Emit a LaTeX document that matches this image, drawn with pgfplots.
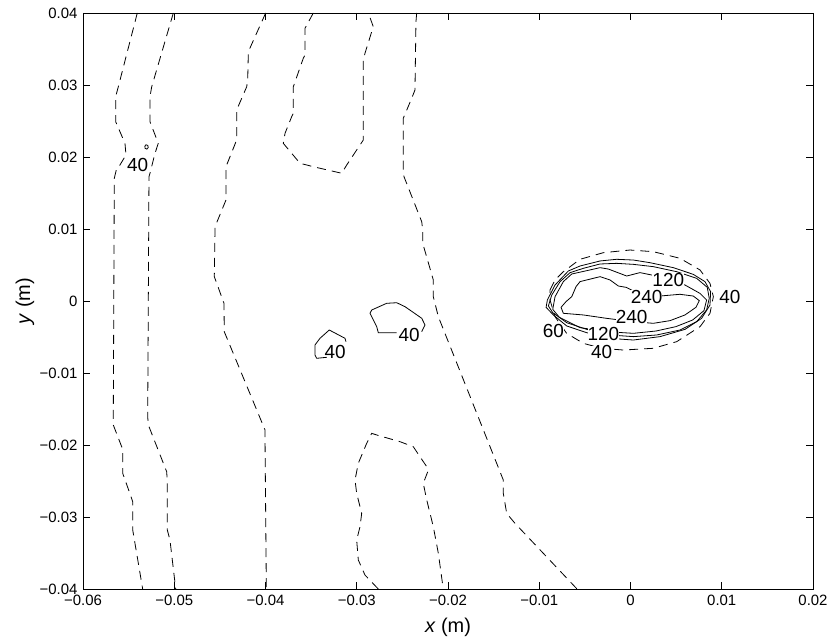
\documentclass[border=0pt]{standalone}
\usepackage{fontspec}
\setmainfont{Liberation Sans}
\usepackage{pgfplots}
\pgfplotsset{compat=1.18}
\tikzset{
  cont/.style={black, line width=0.8bp, no markers},
  dsh/.style={black, line width=0.8bp, no markers, dash pattern=on 9bp off 6bp},
  clab/.style={font=\fontsize{19}{19}\selectfont, inner sep=0.5bp},
  clabw/.style={font=\fontsize{19}{19}\selectfont, inner sep=0pt, fill=white},
}
\begin{document}
\begin{tikzpicture}
\begin{axis}[
  scale only axis, width=730bp, height=576bp,
  xmin=-0.06, xmax=0.02, ymin=-0.04, ymax=0.04,
  scaled ticks=false,
  xtick={-0.06,-0.05,-0.04,-0.03,-0.02,-0.01,0,0.01,0.02},
  xticklabels={−0.06,−0.05,−0.04,−0.03,−0.02,−0.01,0,0.01,0.02},
  ytick={-0.04,-0.03,-0.02,-0.01,0,0.01,0.02,0.03,0.04},
  yticklabels={−0.04,−0.03,−0.02,−0.01,0,0.01,0.02,0.03,0.04},
  tick align=inside, major tick length=7bp,
  axis line style={line width=0.9bp},
  every tick/.style={black, line width=0.8bp},
  ticklabel style={font=\fontsize{15}{15}\selectfont},
  xticklabel style={yshift=-3bp},
  yticklabel style={xshift=-2bp},
  xlabel={\textit{x} (m)}, ylabel={\textit{y} (m)},
  label style={font=\fontsize{20}{20}\selectfont},
  xlabel style={at={(axis description cs:0.5,-0.066)}, anchor=center},
  ylabel style={at={(axis description cs:-0.0795,0.5)}, anchor=center},
]
% --- dashed contours ---
\addplot[dsh] coordinates {(-0.05405,0.04) (-0.05613,0.02976) (-0.05642,0.02838) (-0.05642,0.02490) (-0.05540,0.02190) (-0.05529,0.02028) (-0.05595,0.01889) (-0.05631,0.01843) (-0.05657,0.01704) (-0.05668,-0.01607) (-0.05668,-0.01722) (-0.05576,-0.02024) (-0.05565,-0.02046) (-0.05565,-0.02393) (-0.05493,-0.02649) (-0.05455,-0.02788) (-0.05455,-0.03181) (-0.05346,-0.04)};
\addplot[dsh] coordinates {(-0.05010,0.04) (-0.05247,0.02976) (-0.05266,0.02838) (-0.05266,0.02490) (-0.05175,0.02190) (-0.05211,0.02051) (-0.05266,0.01774) (-0.05277,0.01726) (-0.05291,-0.01607) (-0.05284,-0.01722) (-0.05083,-0.02371) (-0.05076,-0.02510) (-0.05076,-0.03181) (-0.05047,-0.03319) (-0.04984,-0.04)};
\addplot[dsh] coordinates {(-0.03998,0.04) (-0.04188,0.03463) (-0.04195,0.03069) (-0.04206,0.02976) (-0.04316,0.02653) (-0.04316,0.02236) (-0.04433,0.01865) (-0.04433,0.01403) (-0.04553,0.01032) (-0.04561,0.00338) (-0.04455,-0.00032) (-0.04452,-0.00426) (-0.04005,-0.01792) (-0.04005,-0.01931) (-0.03991,-0.04)};
\addplot[dsh] coordinates {(-0.03476,0.04) (-0.03567,0.03788) (-0.03567,0.03417) (-0.03586,0.03371) (-0.03695,0.02976) (-0.03695,0.02607) (-0.03713,0.02560) (-0.03786,0.02329) (-0.03805,0.02190) (-0.03622,0.01913) (-0.03476,0.01865) (-0.03165,0.01774) (-0.03110,0.01889) (-0.02928,0.02236) (-0.02928,0.03347) (-0.02910,0.03440) (-0.02819,0.03810) (-0.02873,0.04)};
\addplot[dsh] coordinates {(-0.02343,0.04) (-0.02351,0.03879) (-0.02362,0.02931) (-0.02398,0.02815) (-0.02490,0.02538) (-0.02490,0.01774) (-0.02482,0.01726) (-0.02288,0.01101) (-0.02277,0.00986) (-0.02277,0.00801) (-0.02161,0.00292) (-0.02161,0.00060) (-0.02106,-0.00218) (-0.01394,-0.02486) (-0.01394,-0.02671) (-0.01357,-0.02949) (-0.01266,-0.03088) (-0.00586,-0.04)};
\addplot[dsh] coordinates {(-0.02764,-0.04) (-0.02910,-0.03806) (-0.02983,-0.03597) (-0.03001,-0.03319) (-0.02964,-0.03135) (-0.02946,-0.02949) (-0.03001,-0.02671) (-0.03019,-0.02486) (-0.02983,-0.02254) (-0.02891,-0.01976) (-0.02836,-0.01838) (-0.02781,-0.01861) (-0.02526,-0.01954) (-0.02380,-0.02024) (-0.02307,-0.02163) (-0.02233,-0.02301) (-0.02222,-0.02371) (-0.02271,-0.02532) (-0.02233,-0.02764) (-0.02161,-0.03135) (-0.02106,-0.03504) (-0.02052,-0.04)};
% dashed ellipse round the hot spot
\addplot[dsh] coordinates {(-0.00882,0.00153) (-0.00827,0.00292) (-0.00736,0.00407) (-0.00553,0.00579) (-0.00298,0.00671) (-0.00005,0.00708) (0.00250,0.00685) (0.00542,0.00593) (0.00762,0.00431) (0.00871,0.00245) (0.00908,0.00060) (0.00871,-0.00171) (0.00762,-0.00356) (0.00506,-0.00565) (0.00250,-0.00657) (-0.00079,-0.00681) (-0.00316,-0.00657) (-0.00517,-0.00588) (-0.00700,-0.00449) (-0.00827,-0.00218) (-0.00882,0.00014) (-0.00882,0.00153)};
% --- solid contours ---
\addplot[cont] coordinates {(-0.05320,0.02120) (-0.05300,0.02110) (-0.05285,0.02130) (-0.05290,0.02160) (-0.05310,0.02170) (-0.05322,0.02150) (-0.05320,0.02120)};
\addplot[cont] coordinates {(-0.03329,-0.00782) (-0.03439,-0.00796) (-0.03458,-0.00750) (-0.03458,-0.00611) (-0.03403,-0.00518) (-0.03301,-0.00403) (-0.03129,-0.00518) (-0.03118,-0.00565)};
\addplot[cont] coordinates {(-0.02562,-0.00440) (-0.02764,-0.00440) (-0.02781,-0.00357) (-0.02855,-0.00171) (-0.02836,-0.00125) (-0.02672,-0.00032) (-0.02562,-0.00024) (-0.02471,-0.00079) (-0.02288,-0.00240) (-0.02252,-0.00333) (-0.02288,-0.00426)};
% hot spot contours
\addplot[cont] coordinates {(-0.00681,0.00417) (-0.00553,0.00486) (-0.00334,0.00556) (-0.00152,0.00579) (0.00031,0.00569) (0.00214,0.00532) (0.00469,0.00463) (0.00688,0.00370) (0.00816,0.00269) (0.00878,0.00130) (0.00871,-0.00056) (0.00779,-0.00241) (0.00597,-0.00394) (0.00323,-0.00495) (0.00031,-0.00542) (-0.00224,-0.00519) (-0.00480,-0.00440) (-0.00699,-0.00347) (-0.00845,-0.00194) (-0.00925,-0.00088) (-0.00911,0.00014) (-0.00827,0.00222) (-0.00681,0.00417)};
\addplot[cont] coordinates {(-0.00662,0.00394) (-0.00516,0.00454) (-0.00334,0.00514) (-0.00152,0.00523) (0.00031,0.00509) (0.00250,0.00477) (0.00506,0.00407) (0.00725,0.00315) (0.00841,0.00190) (0.00863,0.00037) (0.00834,-0.00125) (0.00725,-0.00287) (0.00542,-0.00403) (0.00287,-0.00472) (0.00031,-0.00495) (-0.00224,-0.00472) (-0.00480,-0.00394) (-0.00699,-0.00301) (-0.00852,-0.00162) (-0.00900,-0.00069) (-0.00863,0.00083) (-0.00772,0.00269) (-0.00662,0.00394)};
\addplot[cont] coordinates {(-0.00644,0.00375) (-0.00480,0.00421) (-0.00334,0.00463) (-0.00243,0.00444) (-0.00042,0.00347) (0.00104,0.00394) (0.00287,0.00347) (0.00597,0.00222) (0.00761,0.00106) (0.00834,0.00014) (0.00805,-0.00134) (0.00681,-0.00264) (0.00498,-0.00356) (0.00279,-0.00417) (0.00031,-0.00449) (-0.00261,-0.00426) (-0.00553,-0.00370) (-0.00779,-0.00227) (-0.00852,-0.00116) (-0.00827,0.00060) (-0.00736,0.00269) (-0.00644,0.00375)};
\addplot[cont] coordinates {(-0.00553,0.00269) (-0.00334,0.00338) (-0.00224,0.00292) (-0.00133,0.00208) (-0.00049,0.00190) (0.00068,0.00116) (0.00177,0.00069) (0.00323,0.00069) (0.00542,0.00093) (0.00688,0.00069) (0.00754,0.00005) (0.00717,-0.00088) (0.00597,-0.00194) (0.00433,-0.00273) (0.00250,-0.00310) (0.00031,-0.00287) (-0.00261,-0.00241) (-0.00516,-0.00194) (-0.00736,-0.00171) (-0.00761,-0.00088) (-0.00707,-0.00009) (-0.00644,0.00060) (-0.00597,0.00199) (-0.00553,0.00269)};
% --- contour labels ---
\node[clab] at (axis cs:-0.05401,0.01889) {40};
\node[clab] at (axis cs:-0.03238,-0.00704) {40};
\node[clab] at (axis cs:-0.02427,-0.00472) {40};
\node[clabw] at (axis cs:0.00414,0.00292) {120};
\node[clabw] at (axis cs:0.00177,0.00060) {240};
\node[clabw] at (axis cs:0.00013,-0.00227) {240};
\node[clabw] at (axis cs:-0.00845,-0.00412) {60};
\node[clabw] at (axis cs:-0.00298,-0.00462) {120};
\node[clabw] at (axis cs:-0.00316,-0.00714) {40};
\node[clab] at (axis cs:0.01090,0.00051) {40};
\end{axis}
\pgfresetboundingbox
\path[use as bounding box] ([xshift=-83bp,yshift=-52bp]current axis.south west) rectangle ([xshift=17bp,yshift=13bp]current axis.north east);
\end{tikzpicture}
\end{document}
